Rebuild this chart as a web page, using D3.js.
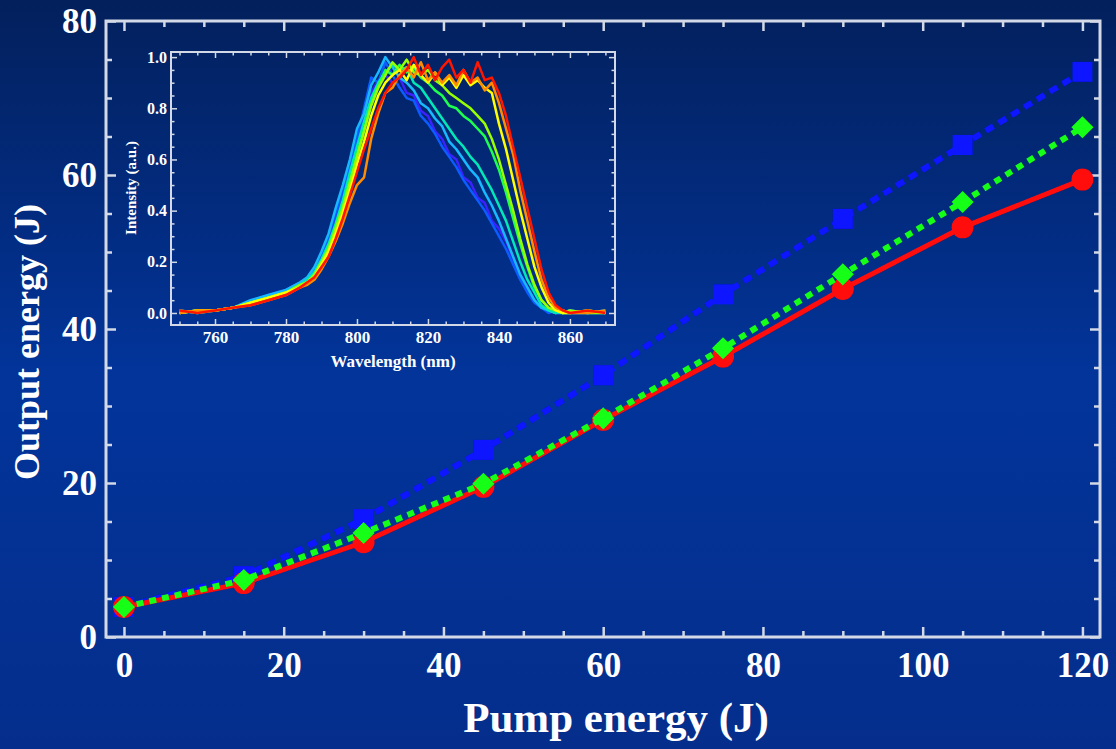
<!DOCTYPE html>
<html>
<head>
<meta charset="utf-8">
<script src="https://cdn.jsdelivr.net/npm/d3@7"></script>
<style>
  body { margin: 0; background: #03205e; }
  svg { display: block; }
  .tk text { fill: #ffffff; font-family: "Liberation Serif", "Times New Roman", serif; font-weight: bold; }
  .tk line { stroke: #d3d9e6; }
  .lbl { fill: #ffffff; font-family: "Liberation Serif", "Times New Roman", serif; font-weight: bold; }
</style>
</head>
<body>
<svg id="chart" width="1116" height="749"></svg>
<script>
// main chart: output energy vs pump energy
const pump = [0, 15, 30, 45, 60, 75, 90, 105, 120];
const outBlue = [3.9, 7.9, 15.3, 24.3, 34.0, 44.5, 54.3, 63.9, 73.4];
const outGreen = [3.9, 7.4, 13.5, 19.9, 28.4, 37.5, 47.1, 56.5, 66.2];
const outRed = [3.9, 7.0, 12.3, 19.5, 28.2, 36.4, 45.2, 53.2, 59.4];
const xTicks = [0, 20, 40, 60, 80, 100, 120];
const yTicks = [0, 20, 40, 60, 80];

// inset: normalised spectra
const wavelength = [750,755,760,765,770,775,780,784,786,788,790,792,794,796,798,800,802,804,806,808,810,812,814,816,818,820,822,824,826,828,830,832,834,836,838,840,842,844,846,848,850,852,854,856,858,860,865,870];
const spec1 = [0.01,0.00,0.01,0.02,0.04,0.07,0.09,0.12,0.13,0.16,0.21,0.29,0.38,0.46,0.57,0.66,0.78,0.86,0.91,0.93,0.90,0.92,0.86,0.85,0.79,0.77,0.71,0.68,0.62,0.60,0.53,0.51,0.45,0.43,0.36,0.33,0.28,0.21,0.15,0.10,0.05,0.02,0.01,0.00,0.01,0.00,0.00,0.01];
const spec2 = [0.00,0.01,0.01,0.02,0.04,0.06,0.09,0.11,0.13,0.17,0.22,0.30,0.39,0.47,0.58,0.68,0.80,0.92,0.90,0.98,0.93,0.88,0.84,0.83,0.77,0.74,0.70,0.65,0.61,0.57,0.52,0.48,0.44,0.40,0.35,0.30,0.25,0.19,0.13,0.08,0.04,0.02,0.00,0.01,0.00,0.00,0.01,0.00];
const spec3 = [0.01,0.00,0.01,0.02,0.05,0.07,0.09,0.12,0.14,0.18,0.24,0.31,0.41,0.50,0.60,0.72,0.78,0.89,0.94,1.00,0.96,0.92,0.90,0.87,0.82,0.80,0.76,0.73,0.67,0.64,0.60,0.56,0.53,0.47,0.42,0.36,0.29,0.22,0.15,0.10,0.05,0.02,0.01,0.00,0.00,0.01,0.00,0.00];
const spec4 = [0.00,0.01,0.01,0.02,0.04,0.06,0.08,0.11,0.13,0.16,0.21,0.27,0.35,0.44,0.55,0.65,0.75,0.84,0.90,0.94,0.97,0.95,0.96,0.90,0.88,0.84,0.80,0.76,0.72,0.68,0.65,0.61,0.58,0.53,0.48,0.42,0.36,0.28,0.20,0.13,0.08,0.03,0.01,0.00,0.01,0.00,0.00,0.01];
const spec5 = [0.01,0.00,0.01,0.02,0.04,0.06,0.08,0.11,0.12,0.15,0.20,0.26,0.34,0.42,0.52,0.62,0.72,0.82,0.89,0.95,0.93,0.97,0.94,0.96,0.92,0.90,0.87,0.85,0.81,0.80,0.77,0.75,0.72,0.69,0.63,0.56,0.47,0.37,0.27,0.18,0.10,0.05,0.02,0.01,0.00,0.00,0.01,0.00];
const spec6 = [0.00,0.01,0.01,0.02,0.04,0.06,0.08,0.11,0.12,0.15,0.20,0.25,0.33,0.41,0.51,0.61,0.71,0.81,0.88,0.93,0.98,0.95,0.99,0.94,0.93,0.95,0.91,0.89,0.86,0.84,0.82,0.80,0.77,0.74,0.68,0.60,0.50,0.40,0.29,0.19,0.11,0.05,0.02,0.01,0.00,0.01,0.00,0.00];
const spec7 = [0.00,0.01,0.01,0.02,0.04,0.06,0.08,0.10,0.12,0.14,0.19,0.24,0.31,0.39,0.48,0.58,0.67,0.77,0.85,0.90,0.93,0.95,0.91,0.97,0.93,0.90,0.94,0.89,0.92,0.88,0.93,0.89,0.91,0.88,0.86,0.74,0.64,0.52,0.40,0.29,0.18,0.10,0.04,0.01,0.00,0.00,0.01,0.00];
const spec8 = [0.00,0.01,0.01,0.02,0.03,0.05,0.07,0.10,0.11,0.13,0.17,0.22,0.28,0.35,0.43,0.50,0.53,0.68,0.78,0.86,0.88,0.93,0.96,0.92,0.98,0.91,0.94,0.90,0.93,0.89,0.95,0.90,0.92,0.87,0.90,0.82,0.72,0.62,0.48,0.36,0.24,0.13,0.06,0.02,0.01,0.00,0.00,0.01];
const spec9 = [0.01,0.00,0.01,0.02,0.03,0.05,0.07,0.10,0.12,0.14,0.18,0.22,0.29,0.37,0.46,0.55,0.64,0.72,0.80,0.86,0.90,0.92,0.95,1.00,0.93,0.97,0.91,0.96,0.99,0.92,0.95,0.90,0.98,0.91,0.92,0.86,0.77,0.65,0.53,0.41,0.29,0.17,0.08,0.03,0.01,0.00,0.01,0.00];
const specColors = ["#3a22ff", "#0a5cff", "#18b8ff", "#00e8b8", "#1cff50", "#98ff00", "#ffff00", "#ff8c00", "#ff1400"];
const wlTicks = [760, 780, 800, 820, 840, 860];
const intTicks = [0, 0.2, 0.4, 0.6, 0.8, 1.0];

const svg = d3.select("#chart");

// background
const defs = svg.append("defs");
const grad = defs.append("linearGradient").attr("id", "bg").attr("x1", 0).attr("y1", 0).attr("x2", 0).attr("y2", 1);
grad.append("stop").attr("offset", "0%").attr("stop-color", "#03205c");
grad.append("stop").attr("offset", "50%").attr("stop-color", "#02349a");
grad.append("stop").attr("offset", "100%").attr("stop-color", "#052e8c");
defs.append("filter").attr("id", "soft").append("feGaussianBlur").attr("stdDeviation", 0.6);
svg.append("rect").attr("width", 1116).attr("height", 749).attr("fill", "url(#bg)");

function range(a, b, s) { const r = []; for (let v = a; v <= b + 1e-9; v += s) r.push(+v.toFixed(3)); return r; }

function frame(x, y, o) {
  const [x0, x1] = x.range(), [y0, y1] = y.range();
  const g = svg.append("g");
  const minorX = range(o.xMin[0], o.xMin[1], o.xMin[2]).filter(v => !o.xt.includes(v));
  const minorY = range(o.yMin[0], o.yMin[1], o.yMin[2]).filter(v => !o.yt.some(t => Math.abs(t - v) < 1e-6));

  const bottom = g.append("g").attr("class", "tk").attr("transform", `translate(0,${y0})`)
    .call(d3.axisBottom(x).tickValues(o.xt).tickSize(-o.major).tickPadding(o.padX).tickFormat(o.xf));
  bottom.selectAll("text").style("font-size", o.fsX + "px");
  g.append("g").attr("class", "tk").attr("transform", `translate(0,${y0})`)
    .call(d3.axisBottom(x).tickValues(minorX).tickSize(-o.minor).tickFormat(""));
  const left = g.append("g").attr("class", "tk").attr("transform", `translate(${x0},0)`)
    .call(d3.axisLeft(y).tickValues(o.yt).tickSize(-o.major).tickPadding(o.padY).tickFormat(o.yf));
  left.selectAll("text").style("font-size", o.fsY + "px");
  g.append("g").attr("class", "tk").attr("transform", `translate(${x0},0)`)
    .call(d3.axisLeft(y).tickValues(minorY).tickSize(-o.minor).tickFormat(""));
  // mirrored ticks
  g.append("g").attr("class", "tk").attr("transform", `translate(0,${y1})`)
    .call(d3.axisTop(x).tickValues(o.xt).tickSize(-o.major).tickFormat(""));
  g.append("g").attr("class", "tk").attr("transform", `translate(0,${y1})`)
    .call(d3.axisTop(x).tickValues(minorX).tickSize(-o.minor).tickFormat(""));
  g.append("g").attr("class", "tk").attr("transform", `translate(${x1},0)`)
    .call(d3.axisRight(y).tickValues(o.yt).tickSize(-o.major).tickFormat(""));
  g.append("g").attr("class", "tk").attr("transform", `translate(${x1},0)`)
    .call(d3.axisRight(y).tickValues(minorY).tickSize(-o.minor).tickFormat(""));
  g.selectAll(".domain").remove();
  g.selectAll(".tk line").attr("stroke-width", o.tw);
  g.append("rect").attr("x", x0).attr("y", y1).attr("width", x1 - x0).attr("height", y0 - y1)
    .attr("fill", "none").attr("stroke", "#d3d9e6").attr("stroke-width", o.fw);
}

// ---- main chart
const x = d3.scaleLinear().domain([-2.25, 122.2]).range([106, 1100]);
const y = d3.scaleLinear().domain([0, 80]).range([637, 21]);

frame(x, y, {
  xt: xTicks, yt: yTicks, xMin: [0, 120, 5], yMin: [0, 80, 5],
  major: 10, minor: 6, padX: 15, padY: 9, fsX: 35, fsY: 35, tw: 2.5, fw: 3,
  xf: d3.format("d"), yf: d3.format("d")
});

svg.append("text").attr("class", "lbl").attr("x", 616).attr("y", 732)
  .attr("text-anchor", "middle").style("font-size", "43px").text("Pump energy (J)");
svg.append("text").attr("class", "lbl").attr("transform", "translate(39,342) rotate(-90)")
  .attr("text-anchor", "middle").style("font-size", "36px").text("Output energy (J)");

const marks = svg.append("g").attr("filter", "url(#soft)");
const line = d3.line().x((d, i) => x(pump[i])).y(d => y(d));

// blue squares, dashed
marks.append("path").datum(outBlue).attr("d", line).attr("fill", "none")
  .attr("stroke", "#0a14ff").attr("stroke-width", 6).attr("stroke-dasharray", "9,6");
marks.selectAll("rect.sq").data(outBlue).join("rect").attr("class", "sq")
  .attr("x", (d, i) => x(pump[i]) - 10).attr("y", d => y(d) - 10)
  .attr("width", 20).attr("height", 20).attr("fill", "#0a14ff");

// red circles, solid
marks.append("path").datum(outRed).attr("d", line).attr("fill", "none")
  .attr("stroke", "#ff0a0a").attr("stroke-width", 5);
marks.selectAll("circle.rd").data(outRed).join("circle").attr("class", "rd")
  .attr("cx", (d, i) => x(pump[i])).attr("cy", d => y(d)).attr("r", 11).attr("fill", "#ff0a0a");

// green diamonds, dotted
marks.append("path").datum(outGreen).attr("d", line).attr("fill", "none")
  .attr("stroke", "#14ff14").attr("stroke-width", 6).attr("stroke-dasharray", "7,6");
marks.selectAll("path.dm").data(outGreen).join("path").attr("class", "dm")
  .attr("d", d3.symbol().type(d3.symbolSquare).size(245))
  .attr("transform", (d, i) => `translate(${x(pump[i])},${y(d)}) rotate(45)`)
  .attr("fill", "#14ff14");

// ---- inset
const xi = d3.scaleLinear().domain([747.6, 872.7]).range([171, 615]);
const yi = d3.scaleLinear().domain([-0.047, 1.02]).range([325, 52]);

frame(xi, yi, {
  xt: wlTicks, yt: intTicks, xMin: [750, 870, 5], yMin: [0, 1, 0.05],
  major: 6, minor: 3.5, padX: 6, padY: 4, fsX: 17, fsY: 16, tw: 1.5, fw: 2,
  xf: d3.format("d"), yf: d3.format(".1f")
});

svg.append("text").attr("class", "lbl").attr("x", 393).attr("y", 367)
  .attr("text-anchor", "middle").style("font-size", "17px").text("Wavelength (nm)");
svg.append("text").attr("class", "lbl").attr("transform", "translate(136,188) rotate(-90)")
  .attr("text-anchor", "middle").style("font-size", "15px").text("Intensity (a.u.)");

const spectra = [spec1, spec2, spec3, spec4, spec5, spec6, spec7, spec8, spec9];
const sline = d3.line().x((d, i) => xi(wavelength[i])).y(d => yi(d));
svg.append("g").attr("filter", "url(#soft)")
  .selectAll("path").data(spectra).join("path")
  .attr("d", sline).attr("fill", "none")
  .attr("stroke", (d, i) => specColors[i]).attr("stroke-width", 2.5)
  .attr("stroke-linejoin", "round");
</script>
</body>
</html>
